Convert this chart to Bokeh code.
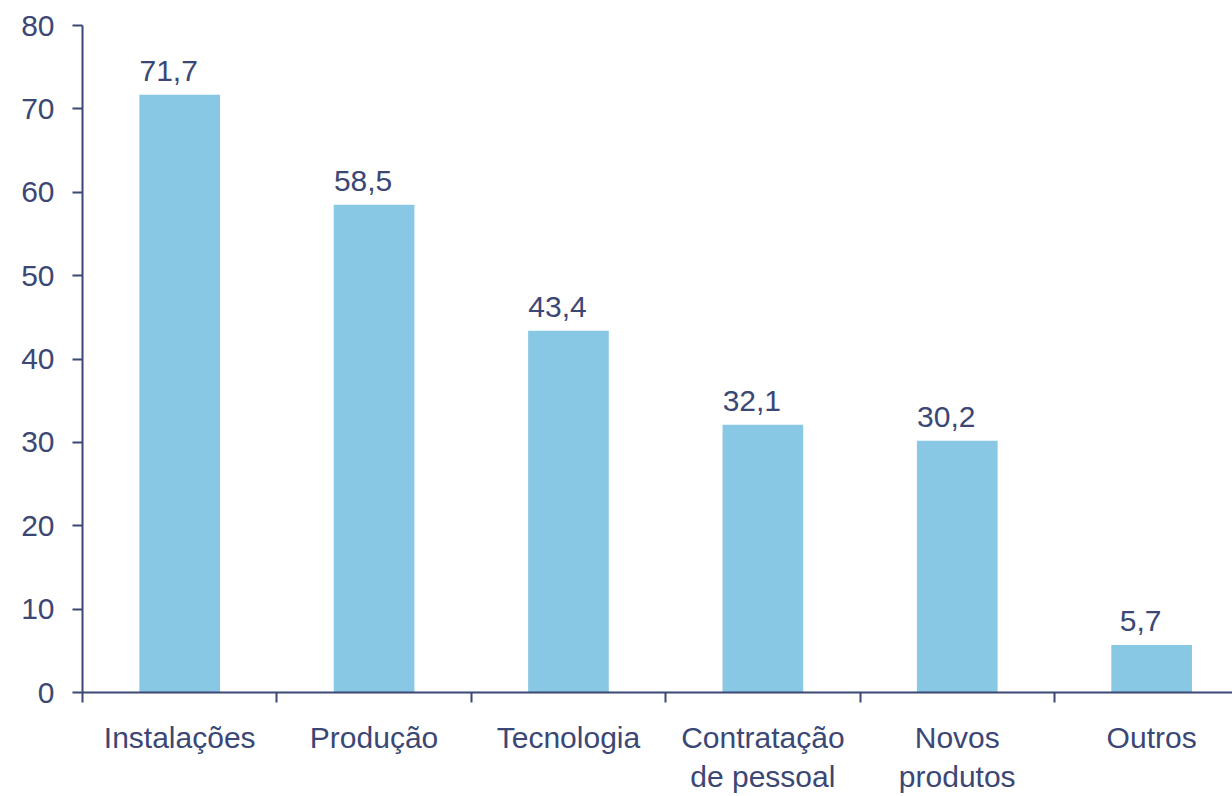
from bokeh.plotting import figure
from bokeh.models import Range1d, FixedTicker, ColumnDataSource, LabelSet
from bokeh.embed import file_html
from bokeh.resources import INLINE
from bokeh.core.properties import value

categories = ["Instalações", "Produção", "Tecnologia", "Contratação\nde pessoal", "Novos\nprodutos", "Outros"]
values = [71.7, 58.5, 43.4, 32.1, 30.2, 5.7]
value_labels = ["71,7", "58,5", "43,4", "32,1", "30,2", "5,7"]
y_ticks = [0, 10, 20, 30, 40, 50, 60, 70, 80]

TEXT = "#3B4774"
BAR = "#89C8E4"
FONT = "Liberation Sans"

xs = [i + 0.5 for i in range(len(categories))]
src = ColumnDataSource(dict(x=xs, top=values, lab=value_labels))

p = figure(width=1232, height=796, output_backend="svg", toolbar_location=None,
           x_range=Range1d(0, 5.916), y_range=Range1d(0, 80),
           min_border_left=82, min_border_top=25, min_border_right=0, min_border_bottom=104)
p.outline_line_color = None
p.grid.grid_line_color = None
p.background_fill_color = "white"
p.border_fill_color = "white"

p.vbar(x="x", top="top", width=0.415, bottom=0, source=src, fill_color=BAR, line_color=None)

labels = LabelSet(x="x", y="top", text="lab", source=src, text_align="center",
                  text_baseline="alphabetic", x_offset=-11, y_offset=14,
                  text_font=value(FONT), text_font_size="30px", text_color=TEXT)
p.add_layout(labels)

xa = p.xaxis[0]
xa.ticker = FixedTicker(ticks=xs, minor_ticks=list(range(len(categories) + 1)))
xa.major_label_overrides = {x: c for x, c in zip(xs, categories)}
xa.major_tick_out = 0
xa.major_tick_in = 0
xa.minor_tick_out = 10
xa.minor_tick_in = 0
xa.minor_tick_line_color = TEXT
xa.minor_tick_line_width = 2
xa.axis_line_color = TEXT
xa.axis_line_width = 2
xa.major_label_text_font = FONT
xa.major_label_text_font_size = "30px"
xa.major_label_text_color = TEXT
xa.major_label_standoff = 18

ya = p.yaxis[0]
ya.ticker = FixedTicker(ticks=y_ticks)
ya.major_tick_out = 10
ya.major_tick_in = 0
ya.major_tick_line_color = TEXT
ya.major_tick_line_width = 2
ya.minor_tick_line_color = None
ya.axis_line_color = TEXT
ya.axis_line_width = 2
ya.major_label_text_font = FONT
ya.major_label_text_font_size = "30px"
ya.major_label_text_color = TEXT
ya.major_label_standoff = 18

open("out.html", "w").write(file_html(p, INLINE))
